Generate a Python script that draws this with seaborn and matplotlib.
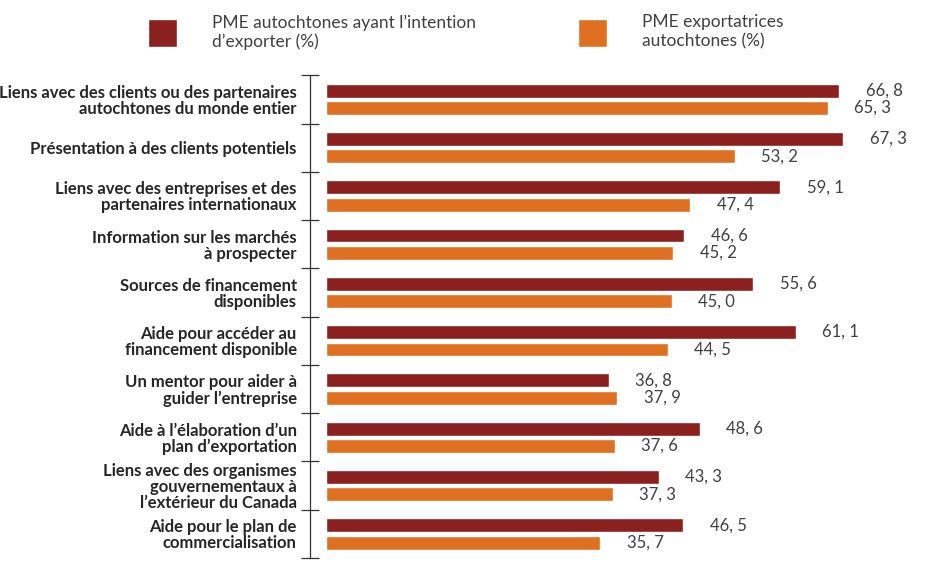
import pandas as pd
import matplotlib.pyplot as plt
import seaborn as sns
from matplotlib.patches import Patch
from matplotlib.ticker import FixedLocator

categories = [
    "Liens avec des clients ou des partenaires\nautochtones du monde entier",
    "Présentation à des clients potentiels",
    "Liens avec des entreprises et des\npartenaires internationaux",
    "Information sur les marchés\nà prospecter",
    "Sources de financement\ndisponibles",
    "Aide pour accéder au\nfinancement disponible",
    "Un mentor pour aider à\nguider l’entreprise",
    "Aide à l’élaboration d’un\nplan d’exportation",
    "Liens avec des organismes\ngouvernementaux à\nl’extérieur du Canada",
    "Aide pour le plan de\ncommercialisation",
]
intention = [66.8, 67.3, 59.1, 46.6, 55.6, 61.1, 36.8, 48.6, 43.3, 46.5]
exportatrices = [65.3, 53.2, 47.4, 45.2, 45.0, 44.5, 37.9, 37.6, 37.3, 35.7]
series = ["PME autochtones ayant l’intention\nd’exporter (%)",
          "PME exportatrices\nautochtones (%)"]
colors = ["#8B211E", "#E07021"]
text_color = "#404040"

df = pd.DataFrame({
    "cat": categories * 2,
    "val": intention + exportatrices,
    "serie": [series[0]] * len(categories) + [series[1]] * len(categories),
})

sns.set_style("white")
plt.rcParams["font.family"] = ["Lato", "DejaVu Sans"]

fig = plt.figure(figsize=(9.46, 5.7), dpi=100)
ax = fig.add_axes([0.3446, 0.021, 0.65, 0.847])

sns.barplot(data=df, y="cat", x="val", hue="serie", palette=colors, saturation=1,
            orient="h", width=0.72, gap=0.2, legend=False, ax=ax)

ax.set_xlim(0, 80)
ax.set_ylim(len(categories) - 0.5, -0.5)

# value labels
for container in ax.containers:
    ax.bar_label(container, labels=[f"{v:.1f}".replace(".", ", ") for v in container.datavalues],
                 padding=19, fontsize=12, color=text_color)

for side in ["top", "right", "bottom"]:
    ax.spines[side].set_visible(False)
ax.spines["left"].set_position(("outward", 11.5))
ax.spines["left"].set_color("#333333")
ax.spines["left"].set_linewidth(0.9)

ax.set_xticks([])
ax.set_xlabel("")
ax.set_ylabel("")
ax.tick_params(axis="y", which="major", length=0, pad=9.5)
ax.yaxis.set_minor_locator(FixedLocator([i - 0.5 for i in range(len(categories) + 1)]))
ax.tick_params(axis="y", which="minor", left=True, direction="inout", length=13,
               width=0.9, color="#333333")
for lab in ax.get_yticklabels():
    lab.set_fontweight("bold")
    lab.set_fontsize(12)
    lab.set_color("#262626")
    lab.set_linespacing(1.0)
    lab.set_horizontalalignment("right")
    lab.set_multialignment("right")

# legend
for i, (name, col) in enumerate(zip(series, colors)):
    fig.legend(handles=[Patch(facecolor=col, label=name)], loc="upper left",
               bbox_to_anchor=([0.1564, 0.611][i], 0.975), frameon=False,
               borderpad=0, borderaxespad=0,
               fontsize=12.5, labelcolor=text_color, handlelength=1.67, handleheight=2.1,
               handletextpad=2.0)

fig.savefig("out.png", dpi=100)
